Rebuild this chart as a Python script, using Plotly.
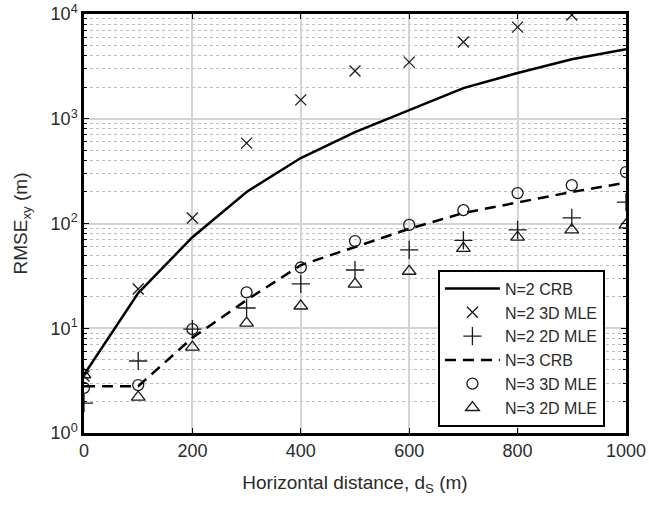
import plotly.graph_objects as go

x = [0, 100, 200, 300, 400, 500, 600, 700, 800, 900, 1000]

n2_crb = [3.6, 21.7, 74, 200, 422, 745, 1210, 1960, 2735, 3700, 4600]
n2_3d = [3.5, 23.7, 113, 585, 1513, 2860, 3470, 5400, 7500, 9800, None]
n2_2d = [1.93, 4.87, 9.8, 15.6, 26.5, 36, 56, 69, 87, 113, 160]
n3_crb = [2.8, 2.8, 8.1, 18.6, 40, 60, 89, 126, 160, 200, 245]
n3_3d = [2.7, 2.87, 9.8, 22, 38, 68, 97, 134, 195, 232, 310]
n3_2d = [3.6, 2.2, 6.6, 11.2, 16.3, 26.4, 35, 58, 74, 87, 97]

ytick_vals = [1, 10, 100, 1000, 10000]
ytick_text = ["10<sup>0</sup>", "10<sup>1</sup>", "10<sup>2</sup>", "10<sup>3</sup>", "10<sup>4</sup>"]
xtick_vals = [0, 200, 400, 600, 800, 1000]

ink = "#1a1a1a"
txt = "#2b2b2b"
fig = go.Figure()
fig.add_trace(go.Scatter(x=x, y=n2_crb, mode="lines", name="N=2 CRB",
                         line=dict(color="black", width=2.5)))
fig.add_trace(go.Scatter(x=x, y=n2_3d, mode="markers", name="N=2 3D MLE",
                         marker=dict(symbol="x-thin-open", size=11, color=ink, line=dict(width=1.3, color=ink))))
fig.add_trace(go.Scatter(x=x, y=n2_2d, mode="markers", name="N=2 2D MLE",
                         marker=dict(symbol="cross-thin-open", size=13, color=ink, line=dict(width=1.3, color=ink))))
fig.add_trace(go.Scatter(x=x, y=n3_crb, mode="lines", name="N=3 CRB",
                         line=dict(color="black", width=2.5, dash="11px,7px")))
fig.add_trace(go.Scatter(x=x, y=n3_3d, mode="markers", name="N=3 3D MLE",
                         marker=dict(symbol="circle-open", size=11, color=ink, line=dict(width=1.3, color=ink))))
fig.add_trace(go.Scatter(x=x, y=n3_2d, mode="markers", name="N=3 2D MLE",
                         marker=dict(symbol="triangle-up-open", size=12, color=ink, line=dict(width=1.3, color=ink))))

fig.update_layout(
    width=649, height=505,
    margin=dict(l=84, r=23, t=14, b=72),
    paper_bgcolor="white", plot_bgcolor="white",
    font=dict(family="Liberation Sans, Arial, sans-serif", size=18, color=txt),
    showlegend=True,
    legend=dict(x=0.653, y=0.39, xanchor="left", yanchor="top",
                bgcolor="white", bordercolor="black", borderwidth=2,
                font=dict(size=16, color=txt), itemwidth=55,
                tracegroupgap=0),
)
fig.update_xaxes(
    range=[0, 1000], tickvals=xtick_vals, automargin=False,
    showgrid=True, gridcolor="#d4d4d4", gridwidth=1.5,
    showline=True, linecolor="black", linewidth=2.5, mirror="ticks",
    ticks="inside", ticklen=5, tickcolor="black", zeroline=False,
    tickfont=dict(size=18, color=txt),
    title=dict(text="Horizontal distance, d<sub>S</sub> (m)", font=dict(size=19, color=txt), standoff=16),
)
fig.update_yaxes(
    type="log", range=[0, 4], tickvals=ytick_vals, ticktext=ytick_text, automargin=False,
    showgrid=True, gridcolor="#d4d4d4", gridwidth=1.5,
    showline=True, linecolor="black", linewidth=2.5, mirror="ticks",
    ticks="inside", ticklen=5, tickcolor="black", zeroline=False,
    tickfont=dict(size=18, color=txt),
    minor=dict(dtick="D1", showgrid=True, gridcolor="#bdbdbd", griddash="dot", gridwidth=1.2,
               ticks="inside", ticklen=3, tickcolor="black"),
    title=dict(text="RMSE<sub>xy</sub> (m)", font=dict(size=19, color=txt), standoff=18),
)

fig.write_html("out.html")
